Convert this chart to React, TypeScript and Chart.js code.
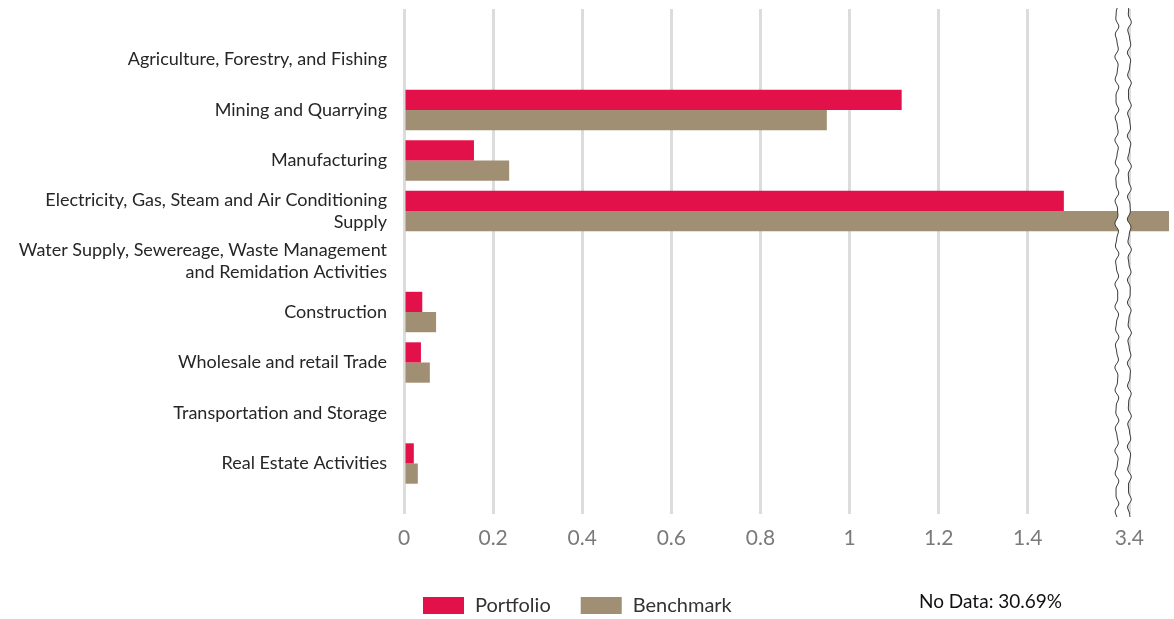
import React, { useEffect, useRef } from 'react';
import { Chart, registerables } from 'chart.js';

Chart.register(...registerables);

// ---- data ----
const CATEGORIES: (string | string[])[] = [
  'Agriculture, Forestry, and Fishing',
  'Mining and Quarrying',
  'Manufacturing',
  ['Electricity, Gas, Steam and Air Conditioning', 'Supply'],
  ['Water Supply, Sewereage, Waste Management', 'and Remidation Activities'],
  'Construction',
  'Wholesale and retail Trade',
  'Transportation and Storage',
  'Real Estate Activities',
];
const SERIES_NAMES = ['Portfolio', 'Benchmark'];
const PORTFOLIO = [0, 1.117, 0.157, 1.481, 0, 0.041, 0.038, 0, 0.022];
const BENCHMARK = [0, 0.949, 0.236, 3.5, 0, 0.072, 0.058, 0, 0.031];
const X_TICKS = [0, 0.2, 0.4, 0.6, 0.8, 1, 1.2, 1.4];
const BREAK_TICK = 3.4;
const NO_DATA_TEXT = 'No Data: 30.69%';

// ---- styling / axis break ----
const COLORS = ['#e2114a', '#a08f72'];
const BREAK_START = 1.6; // axis position where the break starts
const BREAK_END = 1.628; // axis position that carries the 3.4 tick
const AXIS_MAX = 1.717;
const FONT = 'Lato, "Open Sans", sans-serif';

const toAxis = (v: number) => (v <= BREAK_START ? v : BREAK_END + (v - BREAK_TICK));

const decorations = {
  id: 'decorations',
  afterDatasetsDraw(chart: any) {
    const ctx = chart.ctx;
    const xs = chart.scales.x;
    const area = chart.chartArea;
    const x1 = xs.getPixelForValue(BREAK_START);
    const x2 = xs.getPixelForValue(BREAK_END);
    const top = area.top - 1;
    const bottom = area.bottom + 3;
    const wave = (y: number, ph: number) =>
      1.4 * Math.sin(y / 3.3 + ph) + 0.6 * Math.sin(y / 1.9 + ph * 1.7);
    ctx.save();
    // white gap
    ctx.beginPath();
    for (let y = top; y <= bottom; y += 1) {
      const x = x1 + wave(y, 0);
      if (y === top) ctx.moveTo(x, y);
      else ctx.lineTo(x, y);
    }
    for (let y = bottom; y >= top; y -= 1) ctx.lineTo(x2 + wave(y, 1.3), y);
    ctx.closePath();
    ctx.fillStyle = '#ffffff';
    ctx.fill();
    // wavy lines
    ctx.strokeStyle = '#3c3c3c';
    ctx.lineWidth = 1;
    [[x1, 0], [x2, 1.3]].forEach(([bx, ph]) => {
      ctx.beginPath();
      for (let y = top; y <= bottom; y += 1) {
        const x = bx + wave(y, ph);
        if (y === top) ctx.moveTo(x, y);
        else ctx.lineTo(x, y);
      }
      ctx.stroke();
    });
    ctx.restore();
  },
  afterDraw(chart: any) {
    const ctx = chart.ctx;
    ctx.save();
    // legend
    ctx.font = `20px ${FONT}`;
    ctx.textBaseline = 'alphabetic';
    ctx.textAlign = 'left';
    let x = 423;
    chart.data.datasets.forEach((ds: any) => {
      ctx.fillStyle = ds.backgroundColor;
      ctx.fillRect(x, 597, 41, 17);
      ctx.fillStyle = '#333333';
      ctx.fillText(ds.label, x + 52, 612);
      x += 52 + ctx.measureText(ds.label).width + 30;
    });
    // no data note
    ctx.font = `19px ${FONT}`;
    ctx.fillStyle = '#111111';
    ctx.fillText(NO_DATA_TEXT, 919, 608);
    ctx.restore();
  },
};

export default function App() {
  const ref = useRef<HTMLCanvasElement>(null);
  useEffect(() => {
    if (!ref.current) return;
    const labels = ['', ...CATEGORIES, ''];
    const pad = (arr: number[]) => [null, ...arr.map(toAxis), null];
    const chart = new Chart(ref.current, {
      type: 'bar',
      data: {
        labels,
        datasets: [
          {
            label: SERIES_NAMES[0],
            data: pad(PORTFOLIO),
            backgroundColor: COLORS[0],
            categoryPercentage: 0.8,
            barPercentage: 1,
          },
          {
            label: SERIES_NAMES[1],
            data: pad(BENCHMARK),
            backgroundColor: COLORS[1],
            categoryPercentage: 0.8,
            barPercentage: 1,
          },
        ] as any,
      },
      options: {
        indexAxis: 'y',
        responsive: false,
        animation: false,
        layout: { padding: { top: 9, right: 5, bottom: 68, left: 0 } },
        plugins: { legend: { display: false }, tooltip: { enabled: false } },
        scales: {
          x: {
            type: 'linear',
            min: 0,
            max: AXIS_MAX,
            afterBuildTicks: (scale: any) => {
              scale.ticks = [...X_TICKS, BREAK_END].map((v) => ({ value: v }));
            },
            afterFit: (scale: any) => {
              scale.height = 37;
              scale.paddingRight = 0;
            },
            ticks: {
              padding: 12,
              color: '#7a7a7a',
              font: { family: FONT, size: 21 },
              callback: (v: any) =>
                Math.abs(Number(v) - BREAK_END) < 1e-6 ? String(BREAK_TICK) : String(Math.round(Number(v) * 10) / 10),
            },
            grid: { color: '#dcdcdc', lineWidth: 3, drawTicks: false },
            border: { display: false },
          },
          y: {
            type: 'category',
            offset: false,
            afterFit: (scale: any) => {
              scale.width = 404;
              scale.paddingTop = 0;
              scale.paddingBottom = 0;
            },
            ticks: {
              autoSkip: false,
              padding: 17,
              color: '#262626',
              font: { family: FONT, size: 18, lineHeight: 22 / 18 },
            },
            grid: { display: false, drawTicks: false },
            border: { display: false },
          },
        },
      },
      plugins: [decorations],
    });
    return () => chart.destroy();
  }, []);
  return (
    <div style={{ position: 'absolute', left: 0, top: 0, width: 1174, height: 619, background: '#fff' }}>
      <canvas ref={ref} width={1174} height={619} style={{ display: 'block' }} />
    </div>
  );
}
